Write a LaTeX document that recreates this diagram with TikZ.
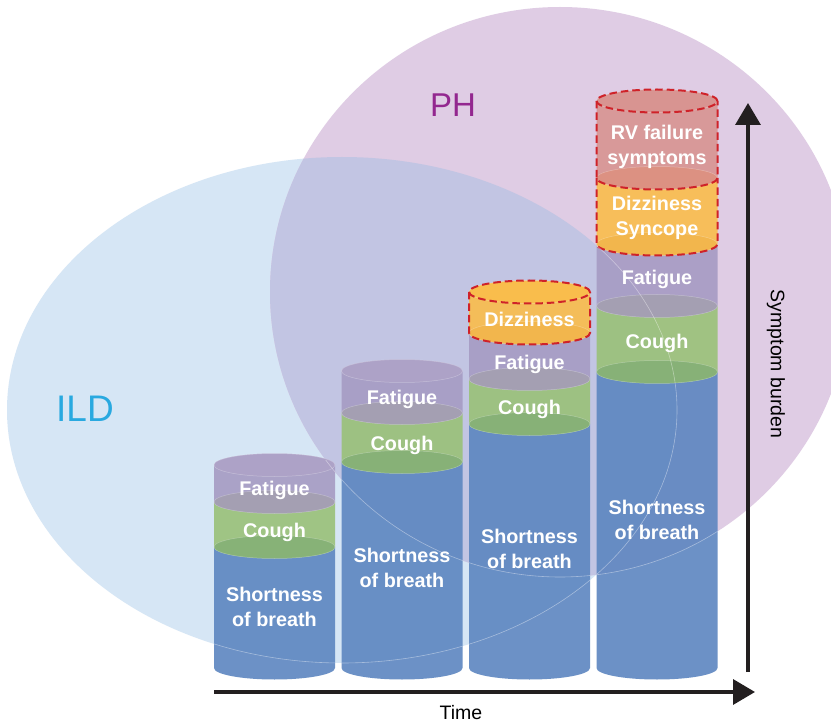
\documentclass[tikz,border=0pt]{standalone}
\usepackage{fontspec}
\setmainfont{Liberation Sans}
\usetikzlibrary{arrows.meta}
\definecolor{ildfill}{HTML}{D6E6F5}
\definecolor{phfill}{HTML}{DFCCE4}
\definecolor{ovfill}{HTML}{C2C5E3}
\definecolor{ildtxt}{HTML}{29A9E0}
\definecolor{phtxt}{HTML}{93278F}
\definecolor{sob}{HTML}{5D86C0}
\definecolor{cough}{HTML}{9AC178}
\definecolor{fat}{HTML}{A69BC3}
\definecolor{fattop}{HTML}{AEA3C8}
\definecolor{dizz}{HTML}{FABD4B}
\definecolor{rv}{HTML}{D89491}
\definecolor{csell}{HTML}{86B177}
\definecolor{fcell}{HTML}{A4A0B2}
\definecolor{dfell}{HTML}{F3B64D}
\definecolor{rdell}{HTML}{DD9182}
\definecolor{dashred}{HTML}{CF2229}
\definecolor{arrowc}{HTML}{231F20}

\newcommand{\cylbody}[4]{%
  \fill[#4, fill opacity=0.9] ({#1-60.5},#2) -- ({#1-60.5},#3)
    arc[start angle=180,end angle=360,x radius=60.5pt,y radius=11.5pt]
    -- ({#1+60.5},#2)
    arc[start angle=0,end angle=180,x radius=60.5pt,y radius=11.5pt] -- cycle;}
\newcommand{\cylcap}[3]{%
  \fill[#3, fill opacity=0.9] (#1,#2) ellipse[x radius=60.5pt,y radius=11.5pt];
  \draw[white, draw opacity=0.3, line width=0.5pt] (#1,#2) ellipse[x radius=60.5pt,y radius=11.5pt];}
\newcommand{\dashside}[3]{%
  \draw[dashline] ({#1-60.5},#2) -- ({#1-60.5},#3)
    arc[start angle=180,end angle=360,x radius=60.5pt,y radius=11.5pt]
    -- ({#1+60.5},#2);}
\newcommand{\dashtop}[2]{%
  \draw[dashline] (#1,#2) ellipse[x radius=60.5pt,y radius=11.5pt];}

\begin{document}
\begin{tikzpicture}[x=1pt,y=-1pt,
  lbl/.style={font=\fontsize{19.8}{25}\selectfont\bfseries, text=white, inner sep=0pt, outer sep=0pt, align=center},
  axlbl/.style={font=\fontsize{19.5}{22}\selectfont, text=black, inner sep=0pt, outer sep=0pt},
  dashline/.style={draw=dashred, line width=2pt, dash pattern=on 7.5pt off 4pt},
  axis/.style={draw=arrowc, line width=3.5pt, -{Triangle[length=22pt,width=25pt]}},
  vennline/.style={draw=white, draw opacity=0.4, line width=0.6pt}]
\useasboundingbox (0,0) rectangle (831,722);
\clip (0,0) rectangle (831,722);
\fill[white] (0,0) rectangle (831,722);

% Venn regions
\fill[ildfill] (342,410) ellipse[x radius=335pt,y radius=253pt];
\fill[phfill] (560,292) ellipse[x radius=290pt,y radius=285pt];
\begin{scope}
  \clip (342,410) ellipse[x radius=335pt,y radius=253pt];
  \fill[ovfill] (560,292) ellipse[x radius=290pt,y radius=285pt];
\end{scope}

\node[font=\fontsize{37}{40}\selectfont, text=ildtxt, inner sep=0pt] (ild) at (85,409) {ILD};
\node[font=\fontsize{33}{36}\selectfont, text=phtxt, inner sep=0pt] (ph) at (453,105) {PH};

% Column 1
\cylbody{274.5}{547}{668}{sob}
\cylbody{274.5}{502}{547}{cough}
\cylcap{274.5}{547}{csell}
\cylbody{274.5}{465}{502}{fat}
\cylcap{274.5}{502}{fcell}
\cylcap{274.5}{465}{fattop}

% Column 2
\cylbody{402}{462}{668}{sob}
\cylbody{402}{413}{462}{cough}
\cylcap{402}{462}{csell}
\cylbody{402}{371}{413}{fat}
\cylcap{402}{413}{fcell}
\cylcap{402}{371}{fattop}

% Column 3
\cylbody{529.5}{424}{668}{sob}
\cylbody{529.5}{379}{424}{cough}
\cylcap{529.5}{424}{csell}
\cylbody{529.5}{333}{379}{fat}
\cylcap{529.5}{379}{fcell}
\cylbody{529.5}{292}{333}{dizz}
\cylcap{529.5}{333}{dfell}
\cylcap{529.5}{292}{dizz}
\dashside{529.5}{292}{333}
\dashtop{529.5}{292}

% Column 4
\cylbody{657}{372}{668}{sob}
\cylbody{657}{306}{372}{cough}
\cylcap{657}{372}{csell}
\cylbody{657}{244}{306}{fat}
\cylcap{657}{306}{fcell}
\cylbody{657}{178}{244}{dizz}
\cylcap{657}{244}{dfell}
\cylbody{657}{101}{178}{rv}
\cylcap{657}{178}{rdell}
\cylcap{657}{101}{rv}
\dashside{657}{178}{244}
\dashside{657}{101}{178}
\dashtop{657}{101}

% faint Venn outlines, seen through the columns
\begin{scope}
  \clip (214,460) rectangle (335,681) (341.5,365) rectangle (462.5,681)
        (469,285) rectangle (590,681) (596.5,95) rectangle (717.5,681);
  \draw[vennline] (342,410) ellipse[x radius=335pt,y radius=253pt];
  \draw[vennline] (560,292) ellipse[x radius=290pt,y radius=285pt];
\end{scope}

% labels column 1
\node[lbl, anchor=base] (c1f) at (274.5,495) {Fatigue};
\node[lbl, anchor=base] (c1c) at (274.5,537) {Cough};
\node[lbl] (c1s) at (274.5,606.5) {Shortness\\of breath};
% column 2
\node[lbl, anchor=base] (c2f) at (402,404) {Fatigue};
\node[lbl, anchor=base] (c2c) at (402,450) {Cough};
\node[lbl] (c2s) at (402,568) {Shortness\\of breath};
% column 3
\node[lbl, anchor=base] (c3d) at (529.5,327) {Dizziness};
\node[lbl, anchor=base] (c3f) at (529.5,370) {Fatigue};
\node[lbl, anchor=base] (c3c) at (529.5,414) {Cough};
\node[lbl] (c3s) at (529.5,549) {Shortness\\of breath};
% column 4
\node[lbl] (c4r) at (657,147) {RV failure\\symptoms};
\node[lbl] (c4d) at (657,218) {Dizziness\\Syncope};
\node[lbl, anchor=base] (c4f) at (657,285) {Fatigue};
\node[lbl, anchor=base] (c4c) at (657,349) {Cough};
\node[lbl] (c4s) at (657,520) {Shortness\\of breath};

% axes
\coordinate (yfrom) at (748,672);
\coordinate (yto) at (748,103);
\coordinate (xfrom) at (214,692);
\coordinate (xto) at (755,692);
\draw[axis] (yfrom) -- (yto);
\draw[axis] (xfrom) -- (xto);
\node[axlbl, anchor=base] (time) at (461,719) {Time};
\node[axlbl, rotate=-90] (burden) at (776,364) {Symptom burden};
\end{tikzpicture}
\end{document}
